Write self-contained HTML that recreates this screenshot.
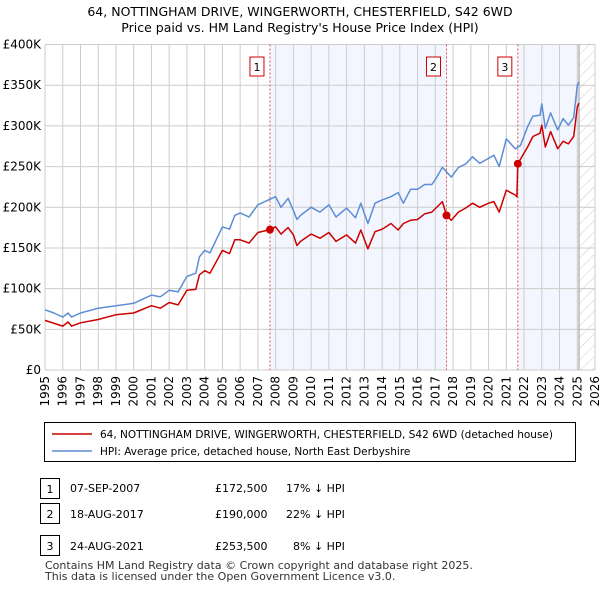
<!DOCTYPE html>
<html><head><meta charset="utf-8"><style>
body{margin:0;background:#fff;font-family:"DejaVu Sans","Liberation Sans",sans-serif;}
#wrap{position:relative;width:600px;height:590px;overflow:hidden;}
.t{position:absolute;font-size:11px;color:#000;white-space:nowrap;}
</style></head><body><div id="wrap">
<svg id="svg" width="600" height="590" style="position:absolute;left:0;top:0"></svg>
<div class="t" style="left:70px;top:482px">07-SEP-2007</div>
<div class="t" style="left:215px;top:482px">£172,500</div>
<div class="t" style="left:286px;top:482px">17% ↓ HPI</div>
<div class="t" style="left:70px;top:508px">18-AUG-2017</div>
<div class="t" style="left:215px;top:508px">£190,000</div>
<div class="t" style="left:286px;top:508px">22% ↓ HPI</div>
<div class="t" style="left:70px;top:540px">24-AUG-2021</div>
<div class="t" style="left:215px;top:540px">£253,500</div>
<div class="t" style="left:293px;top:540px">8% ↓ HPI</div>
<div class="t" style="left:45px;top:560px;font-size:11px;line-height:11px;color:#333">Contains HM Land Registry data © Crown copyright and database right 2025.<br>This data is licensed under the Open Government Licence v3.0.</div>
</div>
<script>
const hpiYears=[1995,1995.5,1996,1996.3,1996.5,1997,1998,1999,2000,2001,2001.5,2002,2002.5,2003,2003.5,2003.7,2004,2004.3,2005,2005.4,2005.7,2006,2006.5,2007,2007.5,2008,2008.3,2008.7,2009,2009.2,2009.4,2010,2010.5,2011,2011.4,2012,2012.5,2012.8,2013.2,2013.6,2014,2014.5,2014.9,2015.2,2015.6,2016,2016.4,2016.8,2017,2017.4,2017.9,2018.3,2018.7,2019.1,2019.5,2020,2020.3,2020.6,2021,2021.5,2021.8,2022.2,2022.5,2022.9,2023,2023.2,2023.5,2023.9,2024.2,2024.5,2024.8,2025,2025.1];
const hpiValues=[74,70,65,70,65,70,76,79,82,92,90,98,96,115,119,139,147,144,176,173,190,193,188,203,208,213,200,211,196,185,190,200,194,203,188,199,187,205,180,205,209,213,218,205,222,222,228,228,234,249,237,249,253,262,254,260,264,250,284,272,276,299,312,313,327,297,316,295,309,301,310,350,354];
const paidYears=[1995,1996,1996.3,1996.5,1997,1998,1999,2000,2001,2001.5,2002,2002.5,2003,2003.5,2003.7,2004,2004.3,2005,2005.4,2005.7,2006,2006.5,2007,2007.68,2008,2008.3,2008.7,2009,2009.2,2009.4,2010,2010.5,2011,2011.4,2012,2012.5,2012.8,2013.2,2013.6,2014,2014.5,2014.9,2015.2,2015.6,2016,2016.4,2016.8,2017.4,2017.63,2017.9,2018.3,2018.7,2019.1,2019.5,2020,2020.3,2020.6,2021,2021.5,2021.6,2021.65,2022.2,2022.5,2022.9,2023,2023.2,2023.5,2023.9,2024.2,2024.5,2024.8,2025,2025.1];
const paidValues=[61,54,59,54,58,62,68,70,79,76,83,80,98,99,117,122,119,147,143,160,160,156,169,172.5,176,167,175,166,153,158,167,162,169,158,166,156,172,149,170,173,180,172,180,184,185,192,194,207,190,184,194,199,205,200,205,207,194,221,215,213,253.5,274,287,291,301,274,293,272,281,278,287,323,328];
const saleYears=[2007.68,2017.63,2021.65];
const saleValues=[172.5,190,253.5];
const saleLabels=["1","2","3"];
const yTicks=[0,50,100,150,200,250,300,350,400];
const xTicks=[1995,1996,1997,1998,1999,2000,2001,2002,2003,2004,2005,2006,2007,2008,2009,2010,2011,2012,2013,2014,2015,2016,2017,2018,2019,2020,2021,2022,2023,2024,2025,2026];

const L=45,R=595,T=44.5,B=370;
const X=y=>L+(y-1995)/(2026-1995)*(R-L);
const Y=v=>B-v/400*(B-T);
const NS="http://www.w3.org/2000/svg";
const svg=document.getElementById('svg');
function mk(tag,attrs,parent){const e=document.createElementNS(NS,tag);for(const k in attrs)e.setAttribute(k,attrs[k]);(parent||svg).appendChild(e);return e;}
function txt(s,attrs){const e=mk('text',attrs);e.textContent=s;return e;}

const defs=mk('defs',{});
const pat=mk('pattern',{id:'hatch',width:8,height:8,patternUnits:'userSpaceOnUse',patternTransform:'rotate(45)'},defs);
mk('line',{x1:0,y1:0,x2:0,y2:8,stroke:'#ccc','stroke-width':1},pat);

let e;
e=txt("64, NOTTINGHAM DRIVE, WINGERWORTH, CHESTERFIELD, S42 6WD",{x:300,y:16,'text-anchor':'middle','font-size':12.5});


e=txt("Price paid vs. HM Land Registry's House Price Index (HPI)",{x:300,y:32,'text-anchor':'middle','font-size':12.5});



e=mk('rect',{x:X(saleYears[0]),y:T,width:X(saleYears[1])-X(saleYears[0]),height:B-T,fill:'#f3f6fe'});


e=mk('rect',{x:X(saleYears[2]),y:T,width:X(2025.1)-X(saleYears[2]),height:B-T,fill:'#f3f6fe'});


e=mk('rect',{x:X(2025.1),y:T,width:R-X(2025.1),height:B-T,fill:'url(#hatch)'});



xTicks.forEach(t=>{
  e=mk('line',{x1:X(t),x2:X(t),y1:T,y2:B,stroke:'#ccc','stroke-width':1});
  
  
  e=txt(String(t),{x:0,y:0,'font-size':12,'text-anchor':'end',transform:`translate(${X(t)+4},${B+6}) rotate(-90)`});
  
  
});
yTicks.forEach(t=>{
  e=mk('line',{x1:L,x2:R,y1:Y(t),y2:Y(t),stroke:'#ccc','stroke-width':1});
  
  
  e=txt(t===0?'£0':'£'+t+'K',{x:L-4,y:Y(t)+4,'font-size':12,'text-anchor':'end'});
  
  
});
e=mk('line',{x1:X(2025.1),x2:X(2025.1),y1:T,y2:B,stroke:'#999','stroke-width':1});



saleYears.forEach((s,i)=>{
  e=mk('line',{x1:X(s),x2:X(s),y1:T,y2:B,stroke:'#e05050','stroke-width':1,'stroke-dasharray':'2,2'});
  
  
  const g=mk('g',{});
  
  
  mk('rect',{x:X(s)-20,y:57,width:14,height:19,fill:'#fff',stroke:'#c00','stroke-width':1},g);
  const tt=mk('text',{x:X(s)-13,y:71,'text-anchor':'middle','font-size':11},g);tt.textContent=saleLabels[i];
});

function line(xs,vs,color,name){
  const d=xs.map((x,i)=>(i?'L':'M')+X(x).toFixed(1)+','+Y(vs[i]).toFixed(1)).join('');
  const p=mk('path',{d:d,fill:'none',stroke:color,'stroke-width':1.5,'stroke-linejoin':'round'});
  
  
}
line(hpiYears,hpiValues,'#5b8ed6','hpi-line');
line(paidYears,paidValues,'#cc0000','price-paid-line');
saleYears.forEach((s,i)=>{
  e=mk('circle',{cx:X(s),cy:Y(saleValues[i]),r:4,fill:'#cc0000'});
  
  
});

const lg=mk('g',{});


mk('rect',{x:44.5,y:422.5,width:531,height:39,fill:'#fff',stroke:'#000','stroke-width':1},lg);
mk('line',{x1:52,x2:92,y1:434,y2:434,stroke:'#cc0000','stroke-width':1.5},lg);
mk('line',{x1:52,x2:92,y1:451,y2:451,stroke:'#5b8ed6','stroke-width':1.5},lg);
e=txt('64, NOTTINGHAM DRIVE, WINGERWORTH, CHESTERFIELD, S42 6WD (detached house)',{x:100,y:438,'font-size':10.5});


e=txt('HPI: Average price, detached house, North East Derbyshire',{x:100,y:455,'font-size':10.5});



[489,514,546].forEach((y,i)=>{
  const g=mk('g',{});
  
  
  mk('rect',{x:40.5,y:y-10.5,width:19,height:20,fill:'#fff',stroke:'#000','stroke-width':1},g);
  const tt=mk('text',{x:50,y:y+4,'text-anchor':'middle','font-size':11},g);tt.textContent=saleLabels[i];
});
</script></body></html>
